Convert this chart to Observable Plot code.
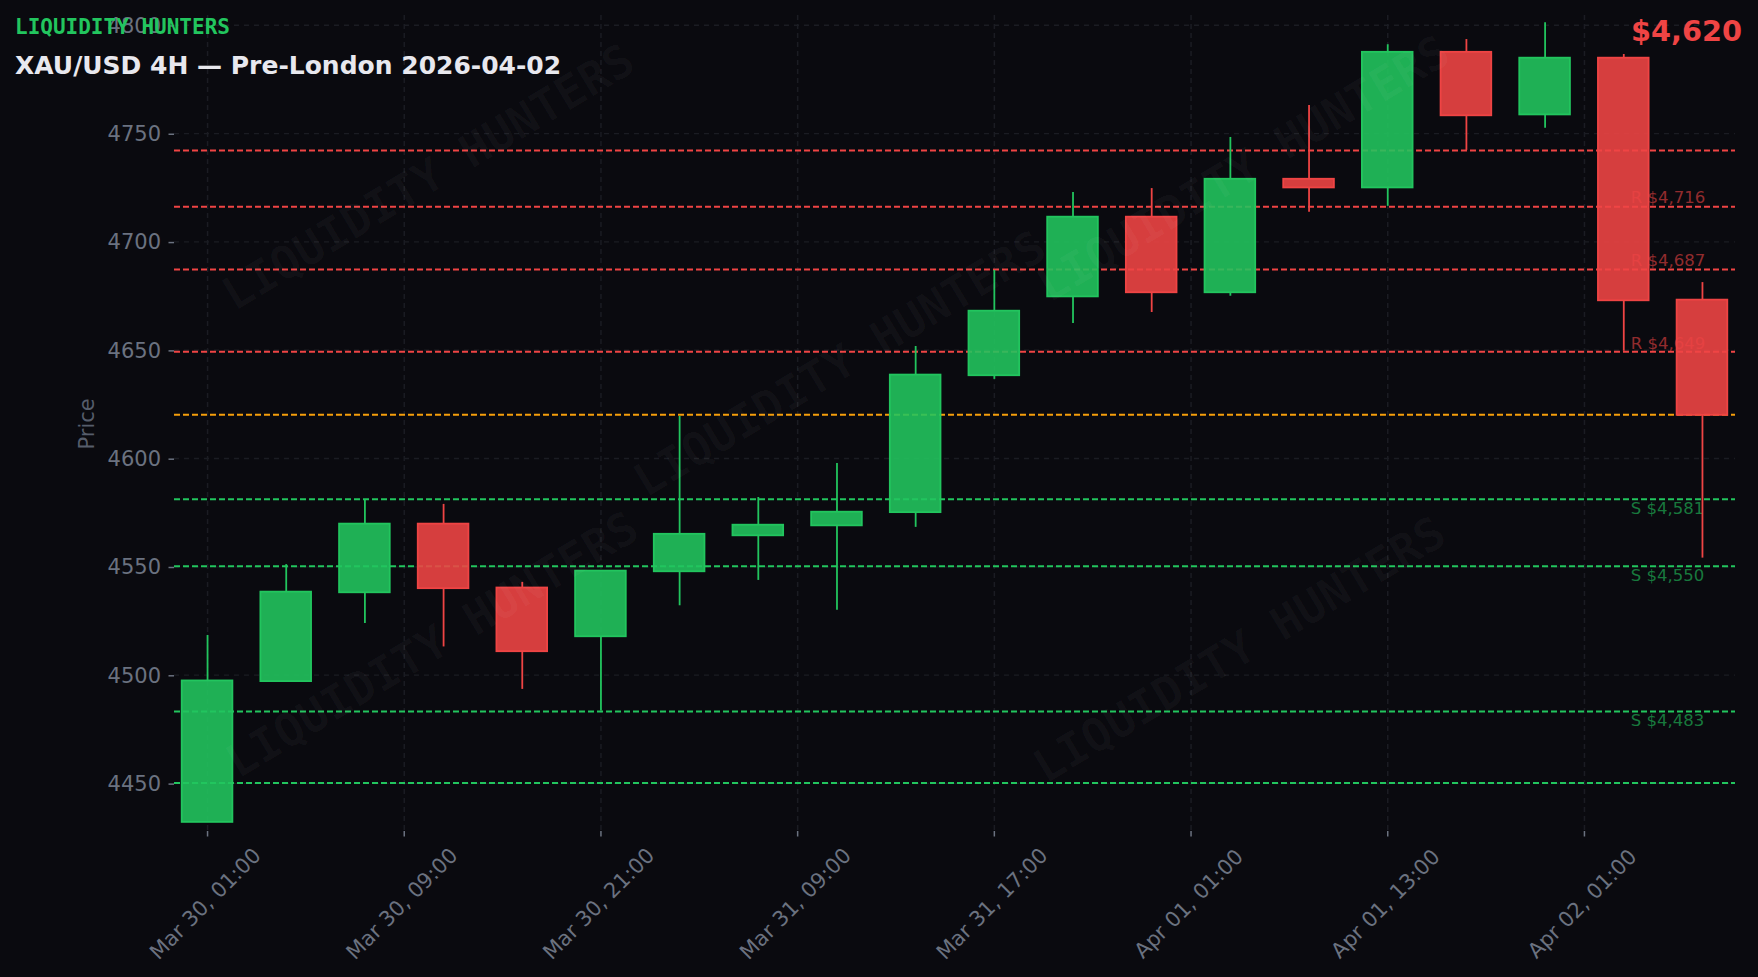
<!DOCTYPE html>
<html>
<head>
<meta charset="utf-8">
<script src="https://cdn.jsdelivr.net/npm/d3@7"></script>
<script src="https://cdn.jsdelivr.net/npm/@observablehq/plot@0.6"></script>
<style>
html,body{margin:0;padding:0;background:#0a0a0f;width:1758px;height:977px;overflow:hidden}
#wrap{position:relative;width:1758px;height:977px}
.t{position:absolute;white-space:nowrap;line-height:1}
#brand{left:15px;top:15px;font:bold 21px "DejaVu Sans Mono",monospace;color:#22c55e}
#title{left:15px;top:51px;font:bold 25px "DejaVu Sans",sans-serif;color:#e8e8ee}
#price{right:16px;top:14px;font:bold 28.8px "DejaVu Sans",sans-serif;color:#ef4444}
</style>
</head>
<body>
<div id="wrap">
<div id="chart"></div>
<div class="t" id="brand">LIQUIDITY HUNTERS</div>
<div class="t" id="title">XAU/USD 4H — Pre-London 2026-04-02</div>
<div class="t" id="price">$4,620</div>
</div>
<script>
const open  = [4432,4497,4538,4569.7,4540.2,4517.7,4547.7,4564.3,4568.9,4575,4638.2,4674.6,4711.4,4676.5,4728.9,4724.9,4787.5,4758.6,4784.8,4673.1];
const close = [4497.3,4538.3,4569.7,4539.9,4510.8,4548,4565,4569.2,4575.2,4638.5,4668,4711.4,4676.5,4728.9,4724.9,4787.5,4758.2,4784.8,4672.8,4619.9];
const high  = [4518.3,4551,4581,4578.8,4542.8,4548,4619.4,4582,4597.7,4651.7,4686.8,4722.8,4724.6,4748.2,4762.9,4791,4793.4,4801.2,4786.5,4681.2];
const low   = [4432,4497,4523.8,4513,4493.4,4483.4,4532,4543.7,4529.9,4568.2,4636.5,4662.3,4667.4,4674.9,4713.7,4716.4,4742.2,4752.4,4649.5,4554];

const resistance = [4742,4716,4687,4649];
const support = [4581,4550,4483,4450];
const current = [4620];
const resistanceLabels = [4716,4687,4649];
const supportLabels = [4581,4550,4483];

const xTicks = [0,2.5,5,7.5,10,12.5,15,17.5];
const xLabels = ["Mar 30, 01:00","Mar 30, 09:00","Mar 30, 21:00","Mar 31, 09:00","Mar 31, 17:00","Apr 01, 01:00","Apr 01, 13:00","Apr 02, 01:00"];
const yTicks = [4450,4500,4550,4600,4650,4700,4750,4800];
const watermarks = [[2.81,4729.5],[2.86,4513.7],[8.04,4643.4],[13.12,4511.4],[13.17,4733.5]];

const GREEN="#22c55e", RED="#ef4444", AMBER="#f59e0b", GRID="#1b1c23", MUTED="#6b7280";
const half = 0.322;
const rows = open.map((o,i)=>({i,open:o,close:close[i],high:high[i],low:low[i],top:Math.max(o,close[i]),bottom:Math.min(o,close[i]),color:close[i]>=o?GREEN:RED}));
const fmt = v=>"$"+d3.format(",")(v);
const font = '"DejaVu Sans",sans-serif';

const chart = Plot.plot({
  width:1758,height:977,
  marginLeft:174,marginRight:23,marginTop:15,marginBottom:146,
  style:{background:"#0a0a0f",fontFamily:font,fontSize:"21px",color:MUTED},
  x:{type:"linear",domain:[-0.42,19.42]},
  y:{type:"linear",domain:[4427.8,4804.5]},
  color:{type:"identity"},
  marks:[
    Plot.gridX(xTicks,{x:d=>d,stroke:GRID,strokeOpacity:1,strokeWidth:1.5,strokeDasharray:"5 4"}),
    Plot.gridY(yTicks,{y:d=>d,stroke:GRID,strokeOpacity:1,strokeWidth:1.3,strokeDasharray:"5 5"}),
    Plot.axisY({ticks:yTicks,tickSize:5.5,tickPadding:8,dy:0.7,stroke:MUTED,strokeWidth:1.5,fill:MUTED,fontSize:21,
      tickFormat:d=>String(d),label:null}),
    Plot.axisX({ticks:xTicks,tickSize:5.5,stroke:MUTED,strokeWidth:1.5,text:null,label:null}),
    Plot.axisX({ticks:xTicks,tickSize:0,tickPadding:72.5,dx:-2,tickRotate:-45,textAnchor:"middle",fill:MUTED,fontSize:21,
      tickFormat:d=>xLabels[xTicks.indexOf(d)],label:null}),
    Plot.text(["Price"],{frameAnchor:"left",dx:-87,rotate:-90,fill:"#565d6b",fontSize:21,dy:26}),
    Plot.ruleY(resistance,{y:d=>d,dy:-0.5,stroke:RED,strokeWidth:2,strokeDasharray:"6 3"}),
    Plot.ruleY(support,{y:d=>d,dy:-0.5,stroke:GREEN,strokeWidth:2,strokeDasharray:"6 3"}),
    Plot.ruleY(current,{y:d=>d,dy:-0.5,stroke:AMBER,strokeWidth:2,strokeDasharray:"6 3"}),
    Plot.text(resistanceLabels,{x:()=>18.09,y:d=>d,text:d=>"R "+fmt(d),textAnchor:"start",dy:-9,fill:RED,fillOpacity:0.6,fontSize:16.5}),
    Plot.text(supportLabels,{x:()=>18.09,y:d=>d,text:d=>"S "+fmt(d),textAnchor:"start",dy:9,fill:GREEN,fillOpacity:0.6,fontSize:16.5}),
    Plot.ruleX(rows,{x:"i",y1:"top",y2:"high",stroke:"color",strokeWidth:1.8}),
    Plot.ruleX(rows,{x:"i",y1:"bottom",y2:"low",stroke:"color",strokeWidth:1.8}),
    Plot.rect(rows,{x1:d=>d.i-half,x2:d=>d.i+half,y1:"open",y2:"close",fill:"color",fillOpacity:0.89,stroke:"color",strokeWidth:1.8}),
    Plot.text(watermarks,{x:d=>d[0],y:d=>d[1],text:()=>"LIQUIDITY HUNTERS",rotate:-31,fontFamily:'"DejaVu Sans Mono",monospace',fontWeight:"bold",fontSize:46,fill:"#ffffff",fillOpacity:0.03})
  ]
});
document.getElementById("chart").appendChild(chart);
</script>
</body>
</html>
